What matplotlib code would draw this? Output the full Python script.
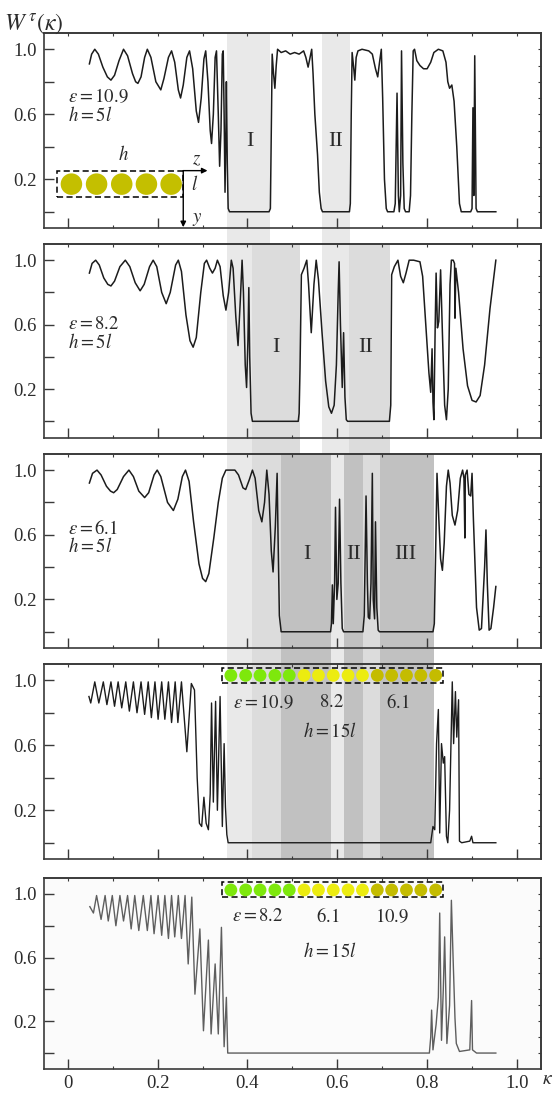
import matplotlib
matplotlib.use("Agg")
import matplotlib.pyplot as plt
from matplotlib import transforms
from matplotlib.patches import Rectangle

plt.rcParams["font.family"] = ["Liberation Serif", "DejaVu Serif"]
plt.rcParams["mathtext.fontset"] = "stix"

# ==== DATA ====
# panel 1: eps = 10.9, h = 5l
k1 = [0.048, 0.053, 0.060, 0.068, 0.078, 0.088, 0.096, 0.104, 0.114, 0.124,
      0.133, 0.144, 0.151, 0.156, 0.163, 0.171, 0.177, 0.185, 0.196, 0.207,
      0.214, 0.224, 0.231, 0.238, 0.246, 0.251, 0.257, 0.265, 0.271, 0.278,
      0.286, 0.291, 0.297, 0.303, 0.307, 0.312, 0.317, 0.320, 0.324, 0.328,
      0.331, 0.335, 0.338, 0.341, 0.344, 0.346, 0.348, 0.350, 0.352, 0.353,
      0.355, 0.357, 0.360, 0.448, 0.451, 0.453, 0.455, 0.458, 0.461, 0.464,
      0.467, 0.475, 0.485, 0.495, 0.505, 0.515, 0.525, 0.530, 0.535, 0.540,
      0.543, 0.546, 0.550, 0.556, 0.560, 0.564, 0.567, 0.627, 0.629, 0.631,
      0.633, 0.636, 0.639, 0.642, 0.646, 0.655, 0.670, 0.678, 0.685, 0.690,
      0.694, 0.698, 0.701, 0.705, 0.709, 0.712, 0.726, 0.729, 0.733, 0.736,
      0.738, 0.741, 0.743, 0.746, 0.749, 0.752, 0.760, 0.763, 0.766, 0.769,
      0.772, 0.777, 0.784, 0.792, 0.800, 0.808, 0.815, 0.825, 0.835, 0.842,
      0.846, 0.850, 0.855, 0.860, 0.866, 0.872, 0.876, 0.897, 0.900, 0.902,
      0.904, 0.906, 0.909, 0.912, 0.953]
w1 = [0.91, 0.97, 1.00, 0.97, 0.89, 0.83, 0.81, 0.84, 0.93, 1.00,
      0.96, 0.85, 0.80, 0.79, 0.83, 0.95, 1.00, 0.95, 0.80, 0.75,
      0.82, 0.95, 0.99, 0.92, 0.75, 0.70, 0.78, 0.95, 0.99, 0.88,
      0.62, 0.55, 0.70, 0.94, 0.99, 0.80, 0.50, 0.42, 0.60, 0.95,
      0.99, 0.60, 0.28, 0.50, 0.97, 0.99, 0.60, 0.12, 0.50, 0.80,
      0.30, 0.02, 0.00, 0.00, 0.02, 0.50, 0.97, 0.85, 0.76, 0.90,
      1.00, 0.98, 0.99, 0.97, 0.98, 0.97, 0.99, 0.95, 0.89, 0.96,
      1.00, 0.85, 0.60, 0.35, 0.12, 0.02, 0.00, 0.00, 0.05, 0.60,
      0.98, 0.90, 0.81, 0.95, 0.99, 1.00, 0.99, 0.97, 0.88, 0.83,
      0.92, 1.00, 0.70, 0.20, 0.02, 0.00, 0.00, 0.05, 0.73, 0.10,
      0.00, 0.10, 0.99, 0.30, 0.02, 0.00, 0.00, 0.10, 0.60, 0.99,
      1.00, 0.93, 0.90, 0.88, 0.88, 0.92, 0.98, 1.00, 0.99, 0.92,
      0.80, 0.76, 0.78, 0.68, 0.40, 0.05, 0.00, 0.00, 0.02, 0.64,
      0.10, 0.96, 0.02, 0.00, 0.00]

# panel 2: eps = 8.2, h = 5l
k2 = [0.048, 0.054, 0.062, 0.070, 0.080, 0.089, 0.096, 0.104, 0.116, 0.128,
      0.138, 0.150, 0.161, 0.170, 0.182, 0.190, 0.198, 0.209, 0.219, 0.228,
      0.240, 0.246, 0.253, 0.263, 0.272, 0.279, 0.286, 0.296, 0.304, 0.309,
      0.316, 0.322, 0.328, 0.333, 0.339, 0.346, 0.352, 0.358, 0.364, 0.368,
      0.374, 0.379, 0.384, 0.388, 0.391, 0.395, 0.398, 0.401, 0.403, 0.405,
      0.408, 0.411, 0.513, 0.515, 0.517, 0.520, 0.526, 0.532, 0.536, 0.542,
      0.548, 0.553, 0.558, 0.566, 0.574, 0.581, 0.587, 0.593, 0.598, 0.602,
      0.604, 0.607, 0.611, 0.614, 0.617, 0.620, 0.623, 0.716, 0.719, 0.721,
      0.727, 0.735, 0.741, 0.747, 0.753, 0.760, 0.770, 0.784, 0.790, 0.797,
      0.804, 0.808, 0.811, 0.813, 0.815, 0.818, 0.820, 0.823, 0.826, 0.830,
      0.834, 0.839, 0.843, 0.847, 0.851, 0.854, 0.858, 0.861, 0.862, 0.864,
      0.870, 0.880, 0.890, 0.900, 0.909, 0.918, 0.928, 0.940, 0.953]
w2 = [0.92, 0.98, 1.00, 0.97, 0.89, 0.85, 0.84, 0.87, 0.96, 1.00,
      0.96, 0.86, 0.81, 0.85, 0.96, 1.00, 0.96, 0.80, 0.73, 0.80,
      0.97, 1.00, 0.93, 0.66, 0.50, 0.46, 0.52, 0.80, 0.98, 1.00,
      0.95, 0.92, 0.95, 1.00, 0.96, 0.78, 0.69, 0.80, 1.00, 0.95,
      0.65, 0.47, 0.75, 1.00, 0.80, 0.35, 0.21, 0.50, 0.83, 0.40,
      0.05, 0.00, 0.00, 0.05, 0.33, 0.91, 0.95, 1.00, 0.85, 0.55,
      0.85, 1.00, 0.88, 0.55, 0.25, 0.09, 0.05, 0.10, 0.35, 0.80,
      0.99, 0.60, 0.21, 0.55, 0.15, 0.01, 0.00, 0.00, 0.10, 0.91,
      0.96, 1.00, 0.90, 0.86, 0.92, 1.00, 1.00, 0.99, 0.90, 0.60,
      0.30, 0.18, 0.45, 0.12, 0.01, 0.60, 0.92, 0.58, 0.62, 0.94,
      0.55, 0.10, 0.01, 0.20, 0.85, 1.00, 1.00, 0.98, 0.64, 0.95,
      0.80, 0.45, 0.22, 0.13, 0.12, 0.16, 0.35, 0.70, 1.00]

# panel 3: eps = 6.1, h = 5l
k3 = [0.048, 0.055, 0.065, 0.074, 0.086, 0.095, 0.102, 0.110, 0.124, 0.136,
      0.146, 0.158, 0.171, 0.180, 0.192, 0.199, 0.207, 0.222, 0.235, 0.245,
      0.255, 0.262, 0.270, 0.280, 0.292, 0.300, 0.307, 0.314, 0.325, 0.335,
      0.344, 0.352, 0.372, 0.380, 0.390, 0.396, 0.404, 0.411, 0.417, 0.425,
      0.432, 0.438, 0.443, 0.448, 0.453, 0.457, 0.462, 0.466, 0.468, 0.471,
      0.475, 0.585, 0.587, 0.589, 0.591, 0.594, 0.596, 0.599, 0.602, 0.605,
      0.608, 0.611, 0.614, 0.657, 0.660, 0.664, 0.667, 0.669, 0.672, 0.675,
      0.678, 0.680, 0.683, 0.685, 0.688, 0.691, 0.694, 0.813, 0.816, 0.819,
      0.822, 0.826, 0.830, 0.834, 0.838, 0.843, 0.847, 0.851, 0.856, 0.862,
      0.868, 0.874, 0.879, 0.882, 0.884, 0.885, 0.889, 0.893, 0.897, 0.900,
      0.903, 0.910, 0.916, 0.921, 0.928, 0.931, 0.934, 0.938, 0.942, 0.948,
      0.953]
w3 = [0.92, 0.98, 1.00, 0.97, 0.90, 0.87, 0.86, 0.88, 0.96, 1.00,
      0.96, 0.87, 0.83, 0.86, 0.97, 1.00, 0.96, 0.80, 0.75, 0.82,
      0.96, 1.00, 0.93, 0.68, 0.42, 0.33, 0.31, 0.36, 0.58, 0.80,
      0.95, 1.00, 1.00, 0.97, 0.89, 0.88, 0.94, 1.00, 0.95, 0.75,
      0.68, 0.80, 1.00, 0.85, 0.50, 0.37, 0.65, 0.98, 0.60, 0.10,
      0.00, 0.00, 0.05, 0.29, 0.05, 0.30, 0.77, 0.20, 0.30, 0.82,
      0.30, 0.02, 0.00, 0.00, 0.10, 0.84, 0.30, 0.09, 0.08, 0.30,
      0.98, 0.20, 0.08, 0.68, 0.15, 0.01, 0.00, 0.00, 0.05, 0.50,
      0.98, 0.70, 0.45, 0.38, 0.55, 0.90, 1.00, 0.92, 0.72, 0.66,
      0.75, 0.95, 1.00, 0.95, 0.58, 0.97, 1.00, 0.85, 0.84, 0.98,
      0.70, 0.15, 0.01, 0.02, 0.40, 0.63, 0.30, 0.01, 0.02, 0.15,
      0.28]

# panel 4: h = 15l, eps 10.9 / 8.2 / 6.1
k4 = [0.047, 0.051, 0.060, 0.069, 0.079, 0.087, 0.096, 0.104, 0.112, 0.120,
      0.129, 0.137, 0.146, 0.154, 0.163, 0.171, 0.179, 0.186, 0.194, 0.201,
      0.209, 0.216, 0.224, 0.231, 0.239, 0.245, 0.253, 0.265, 0.275, 0.282,
      0.288, 0.293, 0.298, 0.303, 0.308, 0.313, 0.317, 0.320, 0.324, 0.329,
      0.333, 0.339, 0.344, 0.348, 0.351, 0.354, 0.357, 0.808, 0.813, 0.817,
      0.821, 0.825, 0.828, 0.832, 0.836, 0.839, 0.843, 0.846, 0.850, 0.856,
      0.859, 0.863, 0.866, 0.870, 0.872, 0.877, 0.895, 0.899, 0.902, 0.953]
w4 = [0.90, 0.86, 0.99, 0.86, 0.99, 0.85, 0.99, 0.84, 0.99, 0.83,
      0.99, 0.81, 0.99, 0.80, 0.99, 0.79, 0.99, 0.77, 0.99, 0.76,
      0.99, 0.76, 0.99, 0.74, 0.99, 0.74, 0.99, 0.56, 0.98, 0.94,
      0.40, 0.12, 0.10, 0.28, 0.12, 0.08, 0.30, 0.86, 0.25, 0.87,
      0.20, 0.90, 0.10, 0.61, 0.22, 0.05, 0.00, 0.00, 0.10, 0.08,
      0.61, 0.82, 0.06, 0.61, 0.49, 0.53, 0.04, 0.00, 0.20, 0.99,
      0.61, 0.93, 0.65, 0.88, 0.01, 0.00, 0.01, 0.04, 0.00, 0.00]

# panel 5: h = 15l, eps 8.2 / 6.1 / 10.9
k5 = [0.049, 0.057, 0.064, 0.074, 0.083, 0.090, 0.099, 0.107, 0.116, 0.124,
      0.133, 0.141, 0.149, 0.158, 0.168, 0.177, 0.185, 0.192, 0.201, 0.209,
      0.216, 0.224, 0.231, 0.238, 0.246, 0.253, 0.261, 0.268, 0.276, 0.283,
      0.294, 0.302, 0.313, 0.319, 0.328, 0.335, 0.342, 0.348, 0.353, 0.356,
      0.805, 0.808, 0.810, 0.813, 0.820, 0.825, 0.828, 0.832, 0.836, 0.839,
      0.844, 0.850, 0.854, 0.858, 0.862, 0.865, 0.872, 0.895, 0.899, 0.901,
      0.910, 0.953]
w5 = [0.92, 0.88, 0.99, 0.84, 0.99, 0.83, 0.99, 0.80, 0.99, 0.83,
      0.99, 0.78, 0.99, 0.77, 0.99, 0.77, 0.99, 0.75, 0.99, 0.74,
      0.99, 0.72, 0.99, 0.73, 0.99, 0.72, 0.99, 0.56, 0.98, 0.37,
      0.78, 0.14, 0.71, 0.12, 0.56, 0.12, 0.79, 0.04, 0.35, 0.00,
      0.00, 0.10, 0.27, 0.02, 0.18, 0.35, 0.88, 0.08, 0.40, 0.73,
      0.06, 0.30, 0.96, 0.58, 0.22, 0.06, 0.01, 0.02, 0.33, 0.02,
      0.00, 0.00]

# stop bands (kappa ranges) for each eps, shaded down through panel 4
bands_109 = [(0.355, 0.451), (0.566, 0.628)]
bands_82 = [(0.411, 0.516), (0.625, 0.718)]
bands_61 = [(0.475, 0.585), (0.614, 0.658), (0.694, 0.815)]

beads5_x = [0.008, 0.064, 0.120, 0.175, 0.230]
beads15_x = [0.363, 0.396, 0.428, 0.461, 0.493, 0.526, 0.558, 0.591,
             0.624, 0.656, 0.689, 0.721, 0.754, 0.786, 0.819]
beads4_colors = ["#7ee80c"] * 5 + ["#ecec10"] * 5 + ["#c4bc00"] * 5

xt_major = [0, 0.2, 0.4, 0.6, 0.8, 1.0]
xt_minor = [0.1, 0.3, 0.5, 0.7, 0.9]
xt_all = [0, 0.1, 0.2, 0.3, 0.4, 0.5, 0.6, 0.7, 0.8, 0.9, 1.0]
yt_major = [0, 0.2, 0.4, 0.6, 0.8, 1.0]
yt_labels = ["", "0.2", "", "0.6", "", "1.0"]
yt_all = [0, 0.1, 0.2, 0.3, 0.4, 0.5, 0.6, 0.7, 0.8, 0.9, 1.0]

# ==== FIGURE ====
fig = plt.figure(figsize=(5.58, 10.93), dpi=100)
boxes = [[0.0789, 0.7911, 0.891, 0.1784],
         [0.0789, 0.5995, 0.891, 0.1769],
         [0.0789, 0.4069, 0.891, 0.1775],
         [0.0789, 0.2138, 0.891, 0.1784],
         [0.0789, 0.0217, 0.891, 0.1747]]
axes = [fig.add_axes(b) for b in boxes]

LINE = "#1c1c1c"
TXT = "#2b2b2b"
SPINE = "#3a3a3a"

for i, ax in enumerate(axes):
    ax.set_facecolor("none" if i < 4 else "#fbfbfb")
    ax.set_xlim(-0.053, 1.054)
    ax.set_ylim(-0.102, 1.098)
    for s in ax.spines.values():
        s.set_color(SPINE)
        s.set_linewidth(1.2)
    ax.set_xticks(xt_major)
    ax.set_xticks(xt_minor, minor=True)
    ax.set_yticks(yt_major)
    ax.set_yticklabels(yt_labels)
    ax.tick_params(axis="both", which="major", direction="in", length=7,
                   width=1.0, color=SPINE, labelsize=13.5, labelcolor=TXT,
                   top=False, right=False)
    ax.tick_params(axis="x", which="minor", direction="in", length=2.5,
                   width=0.8, color=SPINE, top=False)
    ax.tick_params(axis="y", pad=5)
    if i < 4:
        ax.tick_params(axis="x", labelbottom=False)
    else:
        ax.set_xticklabels(["0", "0.2", "0.4", "0.6", "0.8", "1.0"])
        ax.tick_params(axis="x", pad=4)
    top = ax.secondary_xaxis("top")
    top.set_xticks(xt_all)
    top.tick_params(direction="in", length=2.5, width=0.8, color=SPINE,
                    labeltop=False)
    top.spines["top"].set_color(SPINE)
    top.spines["top"].set_linewidth(1.2)
    right = ax.secondary_yaxis("right")
    right.set_yticks(yt_all)
    right.tick_params(direction="in", length=2.5, width=0.8, color=SPINE,
                      labelright=False)
    right.spines["right"].set_color(SPINE)
    right.spines["right"].set_linewidth(1.2)

# shaded stop bands spanning several panels
blend = transforms.blended_transform_factory(axes[0].transData, fig.transFigure)
y_bottom = boxes[3][1]
for bands, top_box, col in [(bands_109, boxes[0], "#e9e9e9"),
                            (bands_82, boxes[1], "#dcdcdc"),
                            (bands_61, boxes[2], "#c1c1c1")]:
    y_top = top_box[1] + top_box[3]
    for a, b in bands:
        r = Rectangle((a, y_bottom), b - a, y_top - y_bottom, transform=blend,
                      facecolor=col, edgecolor="none", zorder=-1)
        fig.add_artist(r)

axes[0].plot(k1, w1, color=LINE, lw=1.1)
axes[1].plot(k2, w2, color=LINE, lw=1.1)
axes[2].plot(k3, w3, color=LINE, lw=1.1)
axes[3].plot(k4, w4, color=LINE, lw=1.0)
axes[4].plot(k5, w5, color="#5e5e5e", lw=1.0)

# eps / h annotations for the 5l panels
fs = 13.5
for ax, eps, ye, yh in [(axes[0], "10.9", 0.71, 0.59),
                        (axes[1], "8.2", 0.60, 0.49),
                        (axes[2], "6.1", 0.64, 0.53)]:
    ax.text(0.0, ye, r"$\varepsilon = %s$" % eps, fontsize=fs, color=TXT,
            va="center", ha="left")
    ax.text(0.0, yh, r"$h = 5l$", fontsize=fs, color=TXT, va="center", ha="left")

# roman numerals for the stop bands
for ax, labels, xs, yv in [(axes[0], ["I", "II"], [0.405, 0.597], 0.43),
                           (axes[1], ["I", "II"], [0.464, 0.663], 0.455),
                           (axes[2], ["I", "II", "III"], [0.532, 0.636, 0.752], 0.476)]:
    for lab, xv in zip(labels, xs):
        ax.text(xv, yv, lab, fontsize=16, color=TXT, ha="center", va="center")

# inset of panel 1: 5 cylinders in a box with axes
ax = axes[0]
ax.add_patch(Rectangle((-0.024, 0.088), 0.281, 0.165, fill=False, ec="k",
                       lw=1.1, ls=(0, (4, 2.2))))
ax.scatter(beads5_x, [0.17] * len(beads5_x), s=240, c="#c4bf00",
           edgecolors="none", zorder=3)
arr = dict(arrowstyle="-|>", lw=1.0, color="k", mutation_scale=8,
           shrinkA=0, shrinkB=0)
ax.annotate("", xy=(0.311, 0.253), xytext=(0.257, 0.253), arrowprops=arr)
ax.annotate("", xy=(0.257, -0.095), xytext=(0.257, 0.253), arrowprops=arr,
            annotation_clip=False)
ax.text(0.124, 0.35, r"$h$", fontsize=13.5, color=TXT, ha="center", va="center")
ax.text(0.287, 0.32, r"$z$", fontsize=13.5, color=TXT, ha="center", va="center")
ax.text(0.283, 0.17, r"$l$", fontsize=13.5, color=TXT, ha="center", va="center")
ax.text(0.289, -0.045, r"$y$", fontsize=13.5, color=TXT, ha="center", va="center")

# insets of panels 4 and 5: 15 cylinders of three kinds
for ax, yb, yc, labs, ylab, yh in [
        (axes[3], 0.98, 1.03, [("10.9", 0.435), ("8.2", 0.586), ("6.1", 0.734)], 0.86, 0.687),
        (axes[4], 0.98, 1.025, [("8.2", 0.424), ("6.1", 0.578), ("10.9", 0.722)], 0.857, 0.637)]:
    ax.add_patch(Rectangle((0.343, yb), 0.493, 0.095, fill=False, ec="k",
                           lw=1.1, ls=(0, (4, 2.2))))
    ax.scatter(beads15_x, [yc] * len(beads15_x), s=85, c=beads4_colors,
               edgecolors="none", zorder=3)
    for j, (val, xv) in enumerate(labs):
        s = (r"$\varepsilon = %s$" % val) if j == 0 else r"$%s$" % val
        ax.text(xv, ylab, s, fontsize=fs, color=TXT, ha="center", va="center")
    ax.text(0.584, yh, r"$h = 15l$", fontsize=fs, color=TXT, ha="center",
            va="center")

fig.text(0.008, 0.978, r"$W^{\,\tau}\left(\kappa\right)$", fontsize=17,
         color=TXT, ha="left", va="center")
fig.text(0.982, 0.012, r"$\kappa$", fontsize=14, color=TXT, ha="center",
         va="center")

fig.savefig("out.png", dpi=100)
